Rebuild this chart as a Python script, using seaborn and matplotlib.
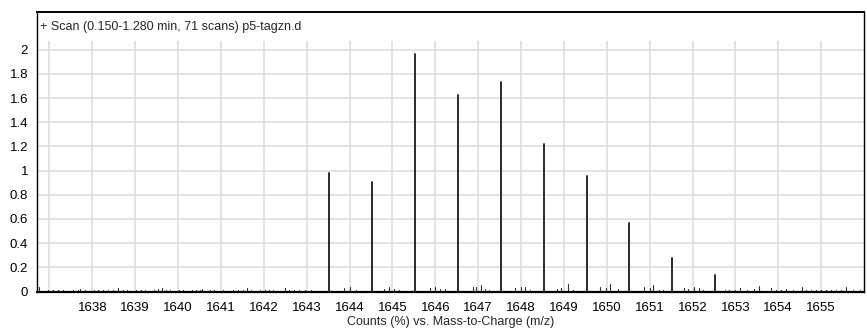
import matplotlib
matplotlib.use("Agg")
import matplotlib.pyplot as plt
import numpy as np
import pandas as pd
import seaborn as sns

# Isotope envelope (m/z, relative counts in %)
main_mz = [1643.52, 1644.52, 1645.53, 1646.53, 1647.53,
           1648.53, 1649.53, 1650.53, 1651.53, 1652.53]
main_counts = [0.979, 0.907, 1.967, 1.628, 1.730,
               1.218, 0.959, 0.568, 0.281, 0.138]

# Low-level baseline signals
minor_mz = [
    1636.76, 1636.97, 1637.09, 1637.21, 1637.32, 1637.54, 1637.66, 1637.71,
    1637.83, 1638.05, 1638.14, 1638.26, 1638.37, 1638.49, 1638.61, 1638.71,
    1638.80, 1639.03, 1639.13, 1639.23, 1639.44, 1639.54, 1639.62, 1639.72,
    1639.81, 1640.02, 1640.12, 1640.32, 1640.41, 1640.51, 1640.57, 1640.74,
    1640.84, 1641.05, 1641.29, 1641.40, 1641.52, 1641.60, 1641.69, 1641.91,
    1642.03, 1642.13, 1642.22, 1642.49, 1642.59, 1642.70, 1642.83, 1642.96,
    1643.10, 1643.87, 1644.01, 1644.16, 1644.81, 1644.92, 1645.04, 1645.16,
    1645.87, 1645.99, 1646.11, 1646.22, 1646.87, 1646.96, 1647.06, 1647.16,
    1647.25, 1647.85, 1647.99, 1648.09, 1648.20, 1648.83, 1648.93, 1649.10,
    1649.21, 1649.85, 1649.99, 1650.08, 1650.26, 1650.86, 1651.00, 1651.09,
    1651.22, 1651.30, 1651.79, 1651.90, 1652.03, 1652.15, 1652.24, 1652.75,
    1652.86, 1653.00, 1653.11, 1653.28, 1653.43, 1653.54, 1653.84, 1653.95,
    1654.07, 1654.19, 1654.34, 1654.55, 1654.65, 1654.77, 1654.89, 1655.00,
    1655.12, 1655.23, 1655.35, 1655.47, 1655.58, 1655.74, 1655.90,
]
minor_counts = [
    0.035, 0.010, 0.010, 0.010, 0.010, 0.010, 0.012, 0.020,
    0.010, 0.010, 0.010, 0.010, 0.012, 0.010, 0.030, 0.010,
    0.010, 0.012, 0.010, 0.015, 0.012, 0.020, 0.030, 0.012,
    0.010, 0.012, 0.010, 0.012, 0.010, 0.015, 0.020, 0.012,
    0.010, 0.010, 0.010, 0.012, 0.010, 0.030, 0.010, 0.010,
    0.010, 0.012, 0.010, 0.030, 0.010, 0.015, 0.010, 0.012,
    0.012, 0.025, 0.035, 0.015, 0.020, 0.035, 0.020, 0.010,
    0.030, 0.040, 0.020, 0.020, 0.040, 0.040, 0.050, 0.020,
    0.010, 0.030, 0.040, 0.040, 0.015, 0.020, 0.025, 0.065,
    0.015, 0.040, 0.030, 0.060, 0.020, 0.040, 0.030, 0.055,
    0.015, 0.015, 0.030, 0.020, 0.035, 0.030, 0.015, 0.010,
    0.015, 0.015, 0.025, 0.010, 0.020, 0.045, 0.025, 0.010,
    0.015, 0.020, 0.010, 0.035, 0.010, 0.010, 0.010, 0.010,
    0.010, 0.010, 0.010, 0.015, 0.035, 0.010, 0.010,
]

x_ticks = list(range(1637, 1656))
x_tick_labels = [""] + [str(v) for v in range(1638, 1656)]
y_ticks = [0, 0.2, 0.4, 0.6, 0.8, 1, 1.2, 1.4, 1.6, 1.8, 2]
y_tick_labels = ["0", "0.2", "0.4", "0.6", "0.8", "1", "1.2", "1.4", "1.6", "1.8", "2"]

title_text = "+ Scan (0.150-1.280 min, 71 scans) p5-tagzn.d"
x_label = "Counts (%) vs. Mass-to-Charge (m/z)"


def stems(mz, counts):
    """Long-form table: each peak is a two-point segment from 0 to its count."""
    rows = []
    for i, (m, c) in enumerate(zip(mz, counts)):
        rows.append({"mz": m, "counts": 0.0, "peak": i})
        rows.append({"mz": m, "counts": c, "peak": i})
    return pd.DataFrame(rows)


sns.set_style("white")
plt.rcParams["font.family"] = ["Liberation Sans", "DejaVu Sans"]

fig = plt.figure(figsize=(8.67, 3.32), dpi=100)
ax = fig.add_axes([37 / 867, 40 / 332, 827 / 867, 280 / 332])

x_lo, x_hi = 1636.71, 1656.0
y_lo, y_hi = -0.004, 2.312
ax.set_xlim(x_lo, x_hi)
ax.set_ylim(y_lo, y_hi)

grid_color = "#dedede"
ax.vlines(x_ticks, y_lo, 2.075, color=grid_color, lw=1.2, zorder=0)
ax.hlines(y_ticks[1:], x_lo, x_hi, color=grid_color, lw=1.2, zorder=0)

sns.lineplot(data=stems(minor_mz, minor_counts), x="mz", y="counts",
             units="peak", estimator=None, sort=False,
             color="#333333", lw=0.8, ax=ax, zorder=2)
sns.lineplot(data=stems(main_mz, main_counts), x="mz", y="counts",
             units="peak", estimator=None, sort=False,
             color="#2a2a2a", lw=1.4, ax=ax, zorder=3)

ax.set_xticks(x_ticks)
ax.set_xticklabels(x_tick_labels, fontsize=9.5)
ax.set_yticks(y_ticks)
ax.set_yticklabels(y_tick_labels, fontsize=9.5)
ax.tick_params(axis="both", direction="out", length=5, width=1,
               color="black", pad=1.5, colors="black")
ax.tick_params(axis="x", pad=2.5)

ax.set_xlabel(x_label, fontsize=9, labelpad=1)
ax.set_ylabel("")

for side in ["left", "right", "top"]:
    ax.spines[side].set_visible(True)
    ax.spines[side].set_color("black")
    ax.spines[side].set_linewidth(1.0)
ax.spines["bottom"].set_color("black")
ax.spines["bottom"].set_linewidth(1.6)
ax.spines["top"].set_linewidth(1.4)

ax.text(3 / 827, 1 - 15 / 280, title_text, transform=ax.transAxes,
        ha="left", va="center", fontsize=9)

fig.savefig("out.png", dpi=100)
